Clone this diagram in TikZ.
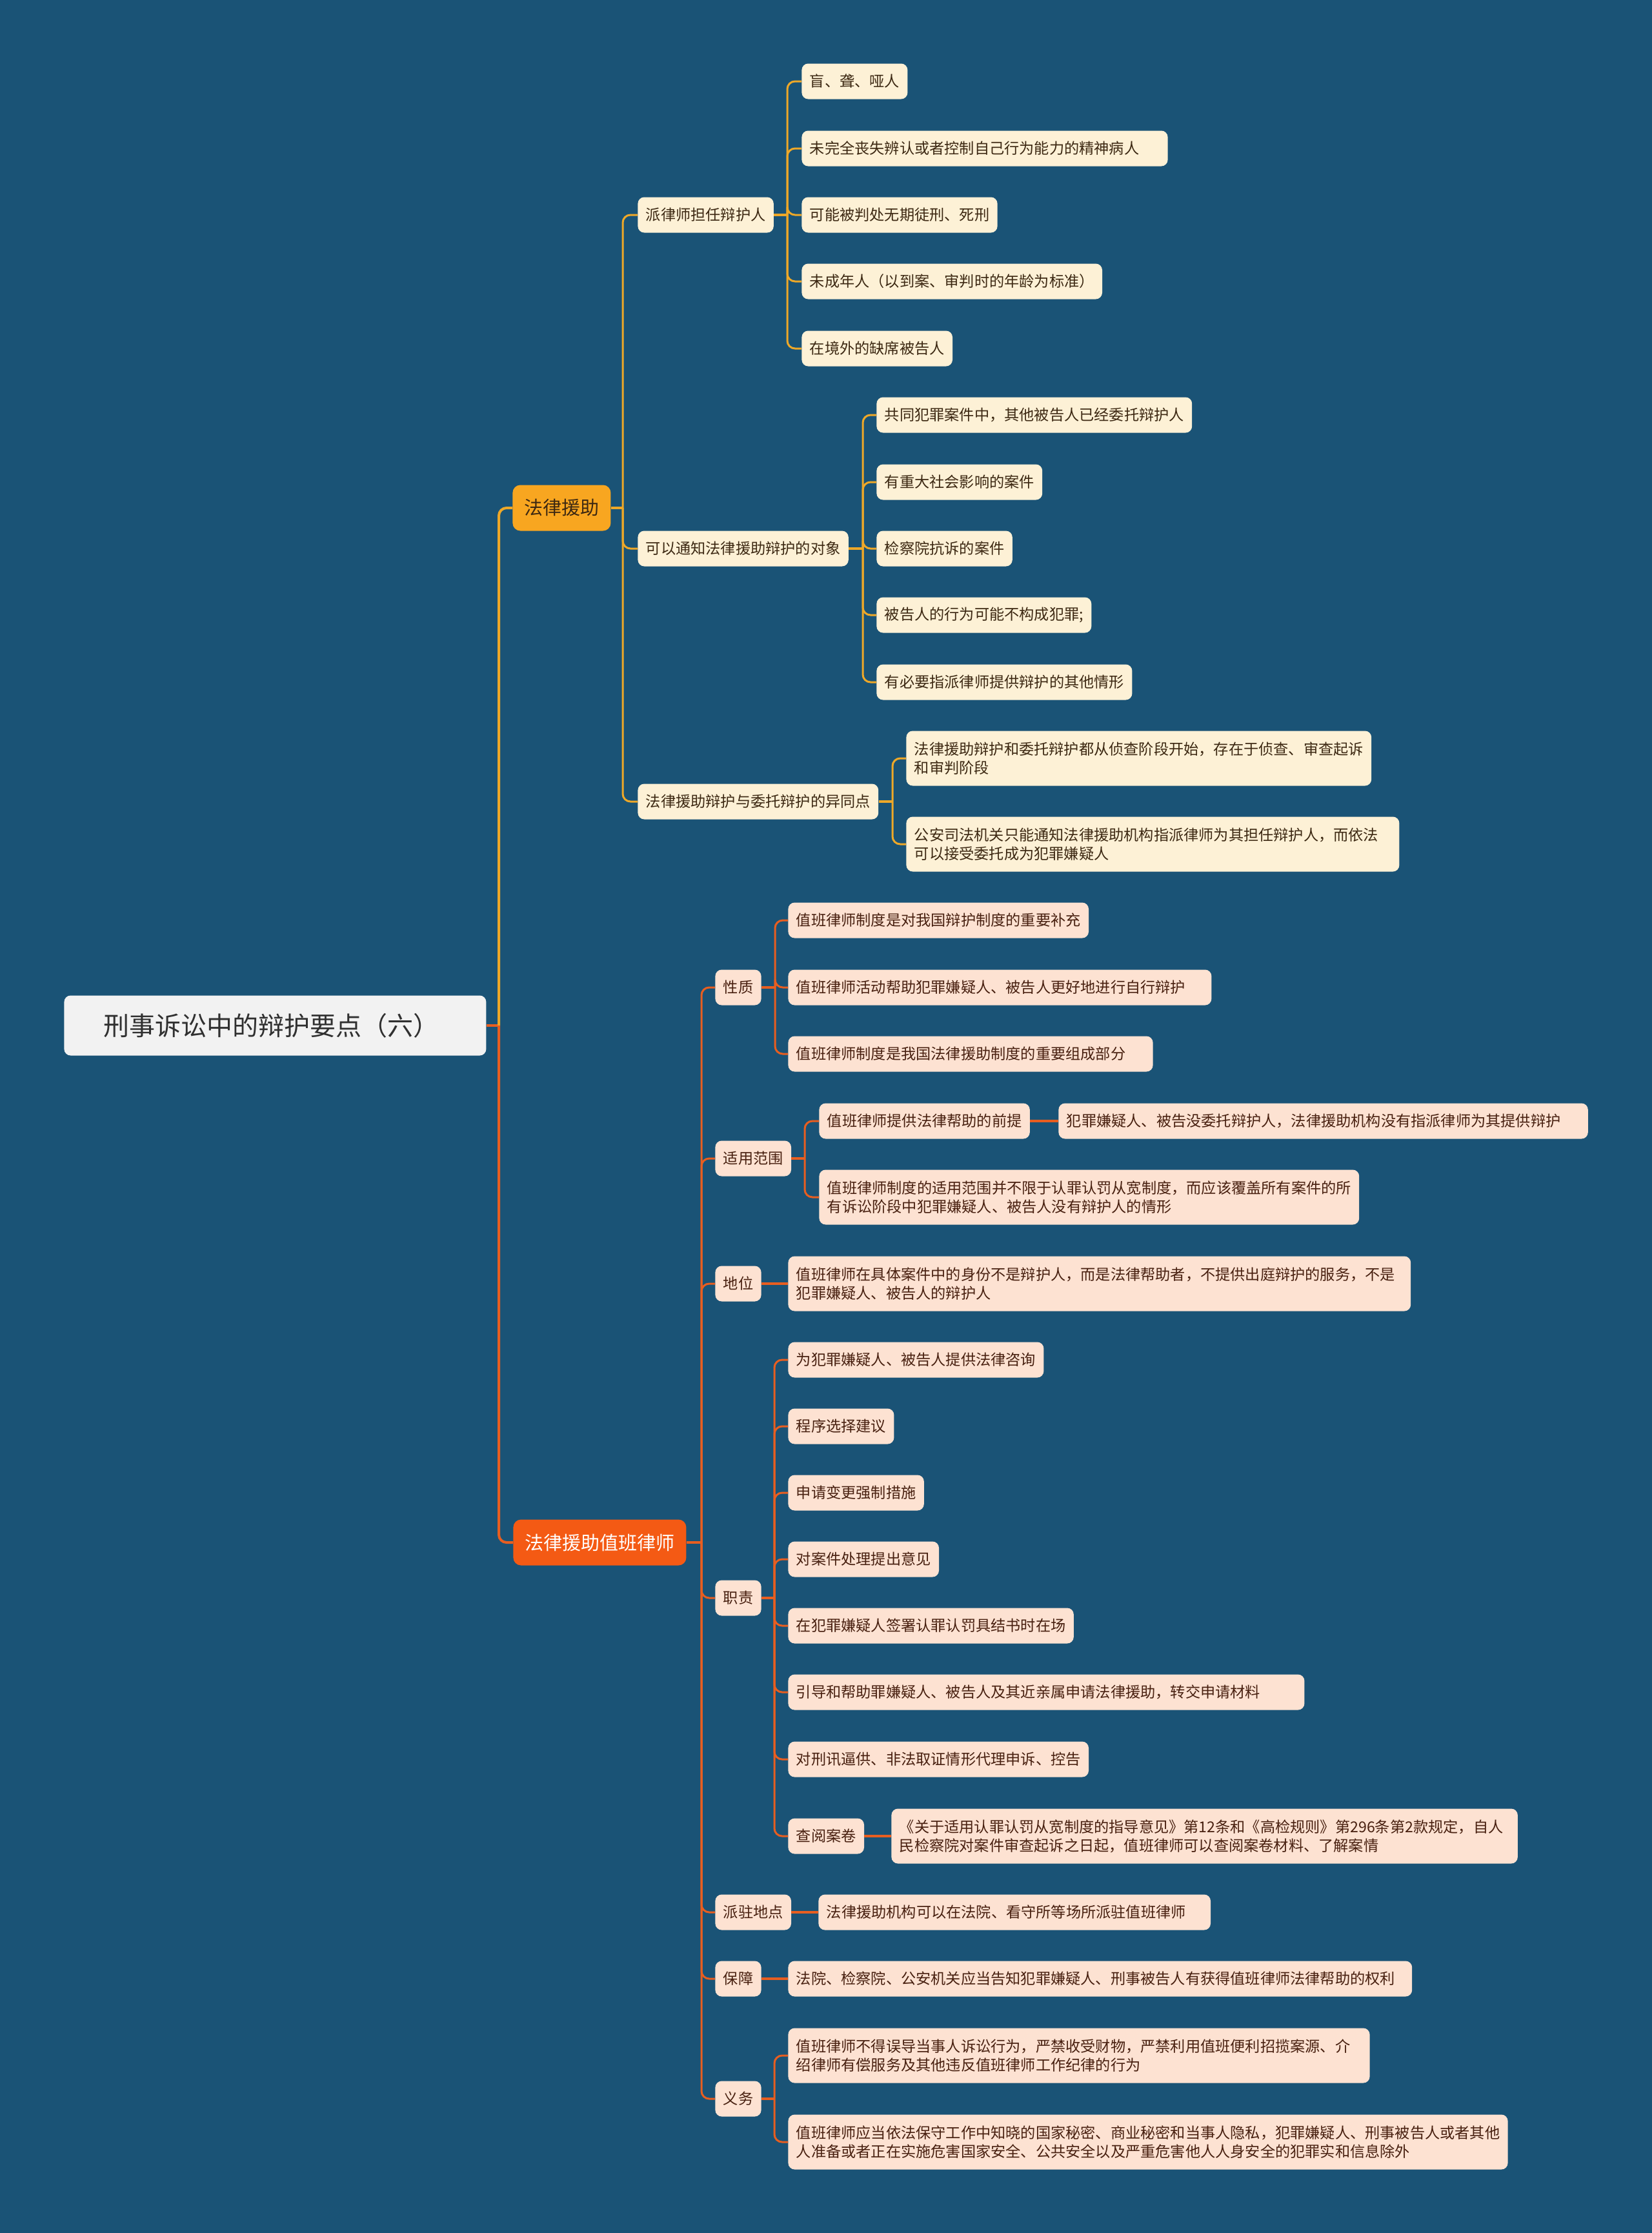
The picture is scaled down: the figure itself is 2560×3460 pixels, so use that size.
\documentclass[tikz,border=0pt]{standalone}
\usepackage{fontspec}
\newfontfamily\cjk{Noto Sans CJK SC}
\definecolor{bg}{RGB}{26,83,118}
\definecolor{yline}{RGB}{238,168,40}
\definecolor{oline}{RGB}{232,94,32}
\definecolor{yfill}{RGB}{248,166,32}
\definecolor{ofill}{RGB}{244,90,20}
\definecolor{cream}{RGB}{253,241,214}
\definecolor{peach}{RGB}{253,226,210}
\definecolor{ytext}{RGB}{60,40,18}
\definecolor{otext}{RGB}{72,32,16}
\definecolor{rootfill}{RGB}{242,242,242}
\definecolor{roottext}{RGB}{48,48,48}
\newcommand{\tailpad}[1]{\hspace*{#1}}
\tikzset{
  box/.style={rounded corners=5pt, inner xsep=6.2pt, inner ysep=0pt, minimum height=27.5pt, anchor=west, align=left, font=\cjk\fontsize{11.6}{14.5}\selectfont},
  ybox/.style={box, fill=cream, text=ytext},
  obox/.style={box, fill=peach, text=otext},
  twoline/.style={minimum height=42.5pt},
  lone/.style={rounded corners=6pt, inner xsep=9pt, inner ysep=0pt, minimum height=35.5pt, anchor=west, font=\cjk\fontsize{14.5}{17}\selectfont},
  ylink/.style={draw=yline, line width=1.5pt, rounded corners=6pt},
  olink/.style={draw=oline, line width=1.5pt, rounded corners=6pt}
}
\begin{document}
\begin{tikzpicture}[x=0.5pt,y=-0.5pt]
\fill[bg] (0,0) rectangle (2560,3460);
\useasboundingbox (0,0) rectangle (2560,3460);

% root
\node[rounded corners=5pt, fill=rootfill, text=roottext, minimum width=327pt, minimum height=46.5pt, inner sep=0pt, anchor=west, font=\cjk\fontsize{20}{24}\selectfont] (root) at (99,1589) {刑事诉讼中的辩护要点（六）\hspace*{6pt}};
\coordinate (T) at (773,1589);

% level 1
\node[lone, fill=yfill, text=ytext] (la) at (794,787) {法律援助};
\node[lone, fill=ofill, text=white] (lb) at (795,2390) {法律援助值班律师};

% yellow branch
\coordinate (jA) at (965,787);
\node[ybox] (a1) at (988,333) {派律师担任辩护人};
\node[ybox] (a2) at (988,850) {可以通知法律援助辩护的对象};
\node[ybox] (a3) at (988,1242) {法律援助辩护与委托辩护的异同点};

\coordinate (jA1) at (1220,333);
\node[ybox] (a11) at (1242,126) {盲、聋、哑人};
\node[ybox] (a12) at (1242,230) {未完全丧失辨认或者控制自己行为能力的精神病人\tailpad{16pt}};
\node[ybox] (a13) at (1242,333) {可能被判处无期徒刑、死刑};
\node[ybox] (a14) at (1242,436) {未成年人（以到案、审判时的年龄为标准）};
\node[ybox] (a15) at (1242,540) {在境外的缺席被告人};

\coordinate (jA2) at (1337,850);
\node[ybox] (a21) at (1358,643) {共同犯罪案件中，其他被告人已经委托辩护人};
\node[ybox] (a22) at (1358,747) {有重大社会影响的案件};
\node[ybox] (a23) at (1358,850) {检察院抗诉的案件};
\node[ybox] (a24) at (1358,953) {被告人的行为可能不构成犯罪;};
\node[ybox] (a25) at (1358,1057) {有必要指派律师提供辩护的其他情形};

\coordinate (jA3) at (1383,1242);
\node[ybox, twoline] (a31) at (1404,1175) {法律援助辩护和委托辩护都从侦查阶段开始，存在于侦查、审查起诉\\和审判阶段};
\node[ybox, twoline] (a32) at (1404,1308) {公安司法机关只能通知法律援助机构指派律师为其担任辩护人，而依法\tailpad{10pt}\\可以接受委托成为犯罪嫌疑人};

% orange branch
\coordinate (jB) at (1087,2390);
\node[obox] (b1) at (1108,1530) {性质};
\node[obox] (b2) at (1108,1795) {适用范围};
\node[obox] (b3) at (1108,1989) {地位};
\node[obox] (b4) at (1108,2476) {职责};
\node[obox] (b5) at (1108,2963) {派驻地点};
\node[obox] (b6) at (1108,3066) {保障};
\node[obox] (b7) at (1108,3252) {义务};

\coordinate (jB1) at (1201,1530);
\node[obox] (b11) at (1221,1426) {值班律师制度是对我国辩护制度的重要补充};
\node[obox] (b12) at (1221,1530) {值班律师活动帮助犯罪嫌疑人、被告人更好地进行自行辩护\tailpad{14pt}};
\node[obox] (b13) at (1221,1633) {值班律师制度是我国法律援助制度的重要组成部分\tailpad{15pt}};

\coordinate (jB2) at (1247,1795);
\node[obox] (b21) at (1269,1737) {值班律师提供法律帮助的前提};
\node[obox] (b211) at (1640,1737) {犯罪嫌疑人、被告没委托辩护人，法律援助机构没有指派律师为其提供辩护\tailpad{15pt}};
\node[obox, twoline] (b22) at (1269,1855) {值班律师制度的适用范围并不限于认罪认罚从宽制度，而应该覆盖所有案件的所\\有诉讼阶段中犯罪嫌疑人、被告人没有辩护人的情形};

\node[obox, twoline] (b31) at (1221,1989) {值班律师在具体案件中的身份不是辩护人，而是法律帮助者，不提供出庭辩护的服务，不是\tailpad{6pt}\\犯罪嫌疑人、被告人的辩护人};

\coordinate (jB4) at (1200,2476);
\node[obox] (b41) at (1221,2107) {为犯罪嫌疑人、被告人提供法律咨询};
\node[obox] (b42) at (1221,2210) {程序选择建议};
\node[obox] (b43) at (1221,2313) {申请变更强制措施};
\node[obox] (b44) at (1221,2416) {对案件处理提出意见};
\node[obox] (b45) at (1221,2519) {在犯罪嫌疑人签署认罪认罚具结书时在场};
\node[obox] (b46) at (1221,2622) {引导和帮助罪嫌疑人、被告人及其近亲属申请法律援助，转交申请材料\tailpad{28pt}};
\node[obox] (b47) at (1221,2726) {对刑讯逼供、非法取证情形代理申诉、控告};
\node[obox] (b48) at (1221,2845) {查阅案卷};
\node[obox, twoline] (b481) at (1381,2845) {《关于适用认罪认罚从宽制度的指导意见》第12条和《高检规则》第296条第2款规定，自人\tailpad{5pt}\\民检察院对案件审查起诉之日起，值班律师可以查阅案卷材料、了解案情};

\node[obox] (b51) at (1268,2963) {法律援助机构可以在法院、看守所等场所派驻值班律师\tailpad{13pt}};
\node[obox] (b61) at (1221,3066) {法院、检察院、公安机关应当告知犯罪嫌疑人、刑事被告人有获得值班律师法律帮助的权利\tailpad{7pt}};

\coordinate (jB7) at (1200,3252);
\node[obox, twoline] (b71) at (1221,3185) {值班律师不得误导当事人诉讼行为，严禁收受财物，严禁利用值班便利招揽案源、介\tailpad{9pt}\\绍律师有偿服务及其他违反值班律师工作纪律的行为};
\node[obox, twoline] (b72) at (1221,3319) {值班律师应当依法保守工作中知晓的国家秘密、商业秘密和当事人隐私，犯罪嫌疑人、刑事被告人或者其他\\人准备或者正在实施危害国家安全、公共安全以及严重危害他人人身安全的犯罪实和信息除外};

% connectors: root and trunk
\draw[olink, line width=2pt] (root.east) -- (T);
\draw[ylink, line width=2pt] (T) |- (la.west);
\draw[olink, line width=2pt] (T) |- (lb.west);

% yellow connectors
\draw[ylink, line width=2pt] (la.east) -- (jA);
\foreach \c in {a1,a2,a3} \draw[ylink] (jA) |- (\c.west);
\draw[ylink, line width=2pt] (a1.east) -- (jA1);
\foreach \c in {a11,a12,a13,a14,a15} \draw[ylink] (jA1) |- (\c.west);
\draw[ylink, line width=2pt] (a2.east) -- (jA2);
\foreach \c in {a21,a22,a23,a24,a25} \draw[ylink] (jA2) |- (\c.west);
\draw[ylink, line width=2pt] (a3.east) -- (jA3);
\foreach \c in {a31,a32} \draw[ylink] (jA3) |- (\c.west);

% orange connectors
\draw[olink, line width=2pt] (lb.east) -- (jB);
\foreach \c in {b1,b2,b3,b4,b5,b6,b7} \draw[olink] (jB) |- (\c.west);
\draw[olink, line width=2pt] (b1.east) -- (jB1);
\foreach \c in {b11,b12,b13} \draw[olink] (jB1) |- (\c.west);
\draw[olink, line width=2pt] (b2.east) -- (jB2);
\foreach \c in {b21,b22} \draw[olink] (jB2) |- (\c.west);
\draw[olink, line width=2pt] (b21.east) -- (b211.west);
\draw[olink, line width=2pt] (b3.east) -- (b31.west);
\draw[olink, line width=2pt] (b4.east) -- (jB4);
\foreach \c in {b41,b42,b43,b44,b45,b46,b47,b48} \draw[olink] (jB4) |- (\c.west);
\draw[olink, line width=2pt] (b48.east) -- (b481.west);
\draw[olink, line width=2pt] (b5.east) -- (b51.west);
\draw[olink, line width=2pt] (b6.east) -- (b61.west);
\draw[olink, line width=2pt] (b7.east) -- (jB7);
\foreach \c in {b71,b72} \draw[olink] (jB7) |- (\c.west);
\end{tikzpicture}
\end{document}
